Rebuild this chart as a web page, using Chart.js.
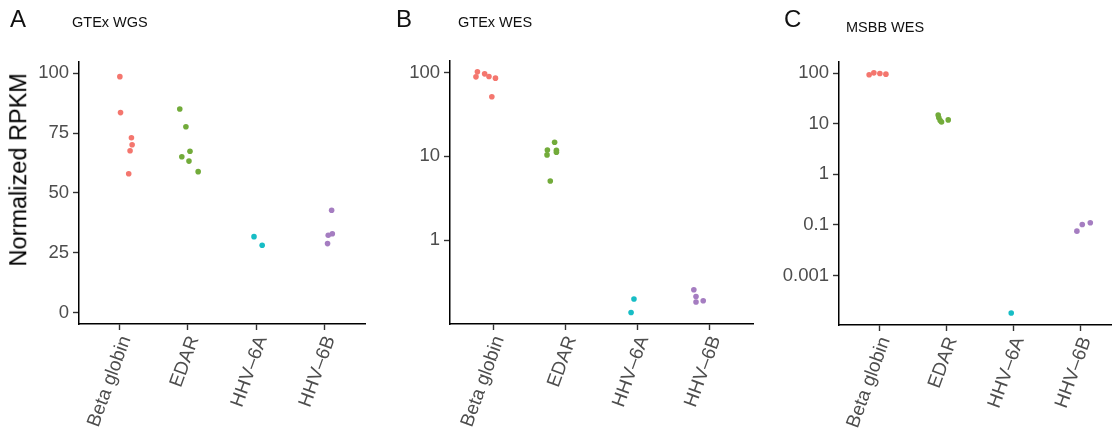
<!DOCTYPE html>
<html>
<head>
<meta charset="utf-8">
<script src="https://cdn.jsdelivr.net/npm/chart.js@4.4.1/dist/chart.umd.min.js"></script>
<style>
  body { margin: 0; background: #fff; width: 1115px; height: 431px; position: relative; overflow: hidden;
         font-family: "Liberation Sans", Arial, sans-serif; }
  canvas { position: absolute; top: 0; }
  .lbl { position: absolute; line-height: 1; white-space: nowrap; color: #111; }
  .big { font-size: 24px; }
  .sub { font-size: 14.5px; }
  #ytitle { left: -131px; top: 158px; width: 300px; text-align: center; font-size: 23.5px;
            transform: rotate(-90deg); color: #000; }
</style>
</head>
<body>
<canvas id="chartA" width="372" height="431" style="left:0px"></canvas>
<canvas id="chartB" width="388" height="431" style="left:372px"></canvas>
<canvas id="chartC" width="355" height="431" style="left:760px"></canvas>

<div class="lbl big" style="left:10px;top:7px">A</div>
<div class="lbl sub" style="left:72px;top:15px">GTEx WGS</div>
<div class="lbl big" style="left:396px;top:7px">B</div>
<div class="lbl sub" style="left:458px;top:15px">GTEx WES</div>
<div class="lbl big" style="left:784px;top:7px">C</div>
<div class="lbl sub" style="left:846px;top:20px">MSBB WES</div>
<div class="lbl" id="ytitle">Normalized RPKM</div>

<script>
"use strict";

const categories = ['Beta globin', 'EDAR', 'HHV\u20136A', 'HHV\u20136B'];
const colors = ['#F4766E', '#72AB3A', '#17BDC5', '#A57DC1'];

// A: GTEx WGS (linear)
const wgsValues = [
    [98.5, 83.5, 73.0, 70.1, 67.6, 58.0],
    [85.0, 77.6, 67.4, 65.1, 63.3, 58.9],
    [31.8, 28.2],
    [42.8, 33.0, 32.4, 28.9]
];
const wgsJitter = [
    [0.00, 0.01, 0.17, 0.18, 0.15, 0.13],
    [-0.12, -0.03, 0.03, -0.09, 0.015, 0.15],
    [-0.03, 0.09],
    [0.11, 0.12, 0.06, 0.05]
];
const wgsTicks = [0, 25, 50, 75, 100];
const wgsTickLabels = ['0', '25', '50', '75', '100'];

// B: GTEx WES (log)
const wesValues = [
    [101.7, 88.7, 96.2, 89.6, 85.5, 51.3],
    [14.7, 11.9, 11.8, 10.4, 11.2, 5.08],
    [0.199, 0.137],
    [0.256, 0.213, 0.183, 0.189]
];
const wesJitter = [
    [-0.22, -0.24, -0.12, -0.06, 0.03, -0.02],
    [-0.15, -0.25, -0.125, -0.255, -0.125, -0.21],
    [-0.05, -0.09],
    [-0.22, -0.19, -0.19, -0.09]
];
const wesTicks = [1, 10, 100];
const wesTickLabels = ['1', '10', '100'];

// C: MSBB WES (log)
const msbbValues = [
    [92.6, 101.4, 98.6, 95.5],
    [14.8, 13.1, 11.6, 10.8, 11.9],
    [0.00181],
    [0.0753, 0.102, 0.110]
];
const msbbJitter = [
    [-0.15, -0.08, 0.01, 0.10],
    [-0.12, -0.11, -0.09, -0.07, 0.03],
    [-0.03],
    [-0.05, 0.03, 0.15]
];
const msbbTicks = [0.01, 0.1, 1, 10, 100];
const msbbTickLabels = ['0.001', '0.1', '1', '10', '100'];

const fontFamily = '"Liberation Sans", Arial, sans-serif';

function makeChart(id, values, jitter, yType, yMin, yMax, yTicks, yTickLabels, box) {
    const datasets = values.map((vals, i) => ({
        data: vals.map((v, j) => ({ x: i + jitter[i][j], y: v })),
        backgroundColor: colors[i],
        borderColor: colors[i],
        pointRadius: 2.8,
        pointBorderWidth: 0
    }));

    new Chart(document.getElementById(id), {
        type: 'scatter',
        data: { datasets: datasets },
        options: {
            responsive: false,
            animation: false,
            layout: { padding: { left: 0, top: box.top, right: box.right, bottom: 0 } },
            plugins: { legend: { display: false }, tooltip: { enabled: false } },
            scales: {
                x: {
                    type: 'linear',
                    min: -0.6,
                    max: box.xMax,
                    afterBuildTicks: s => { s.ticks = categories.map((c, i) => ({ value: i })); },
                    afterFit: s => { s.height = box.xHeight; },
                    ticks: {
                        callback: v => categories[v],
                        minRotation: 70, maxRotation: 70, autoSkip: false,
                        font: { size: 19, family: fontFamily },
                        color: '#4d4d4d', padding: 3, labelOffset: 6
                    },
                    grid: { drawOnChartArea: false, tickLength: 6, tickColor: '#333', tickWidth: 1.4 },
                    border: { color: '#000', width: 1.5 }
                },
                y: {
                    type: yType,
                    min: yMin,
                    max: yMax,
                    afterBuildTicks: s => { s.ticks = yTicks.map(v => ({ value: v })); },
                    afterFit: s => { s.width = box.yWidth; },
                    ticks: {
                        callback: (v, i) => yTickLabels[i],
                        font: { size: 18.5, family: fontFamily },
                        color: '#4d4d4d', padding: 4
                    },
                    grid: { drawOnChartArea: false, tickLength: 6, tickColor: '#333', tickWidth: 1.4 },
                    border: { color: '#000', width: 1.5 }
                }
            }
        }
    });
}

makeChart('chartA', wgsValues, wgsJitter, 'linear', -4.6, 104.6, wgsTicks, wgsTickLabels,
    { top: 62, right: 7, yWidth: 79, xHeight: 107, xMax: 3.6 });
makeChart('chartB', wesValues, wesJitter, 'logarithmic', 0.1, 137, wesTicks, wesTickLabels,
    { top: 61, right: 7, yWidth: 78, xHeight: 107, xMax: 3.6 });
makeChart('chartC', msbbValues, msbbJitter, 'logarithmic', 0.00105, 166, msbbTicks, msbbTickLabels,
    { top: 62, right: 0, yWidth: 79, xHeight: 106, xMax: 3.459 });
</script>
</body>
</html>
